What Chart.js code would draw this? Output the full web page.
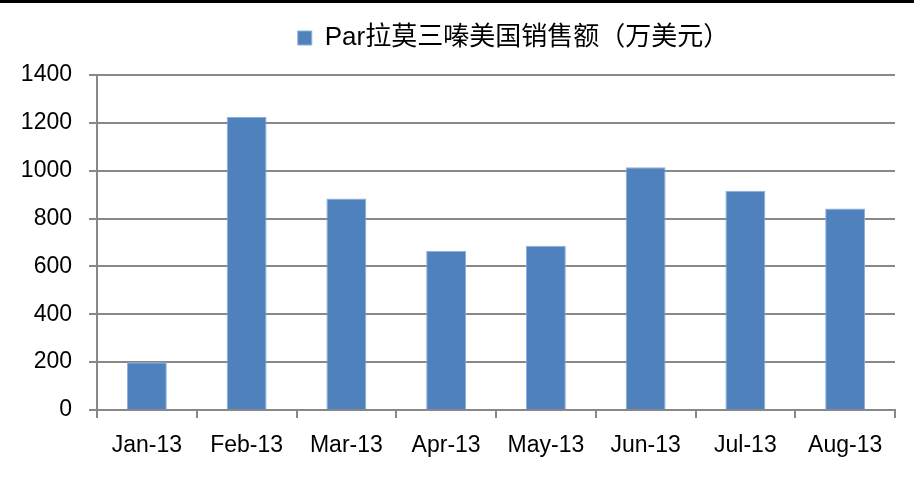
<!DOCTYPE html>
<html>
<head>
<meta charset="utf-8">
<script src="https://cdn.jsdelivr.net/npm/chart.js@4"></script>
<style>
  html, body { margin: 0; padding: 0; background: #fff; }
  #wrap { width: 914px; height: 479px; }
</style>
</head>
<body>
<div id="wrap"><canvas id="salesChart" width="914" height="479"></canvas></div>
<script>
const months = ["Jan-13", "Feb-13", "Mar-13", "Apr-13", "May-13", "Jun-13", "Jul-13", "Aug-13"];
const salesUS = [200, 1225, 884, 664, 686, 1014, 916, 842];
const seriesName = "Par拉莫三嗪美国销售额（万美元）";
const yTicks = [0, 200, 400, 600, 800, 1000, 1200, 1400];

const gridGray = "#888888";
const latinFont = "'Liberation Sans', 'Noto Sans CJK SC', sans-serif";

// top rule + fixed legend band / shifted legend
const frame = {
    id: "frame",
    beforeInit(chart) {
        const lg = chart.legend;
        if (lg) {
            const fit = lg.fit;
            lg.fit = function () { fit.call(this); this.height = 75; };
        }
    },
    afterLayout(chart) {
        const lg = chart.legend;
        if (lg) { lg.left += 66; lg.right += 66; }
    },
    beforeDraw(chart) {
        const ctx = chart.ctx;
        ctx.save();
        ctx.fillStyle = "#fff";
        ctx.fillRect(0, 0, chart.width, chart.height);
        ctx.fillStyle = "#000";
        ctx.fillRect(0, 0, chart.width, 3);
        ctx.restore();
    }
};

new Chart(document.getElementById("salesChart").getContext("2d"), {
    type: "bar",
    data: {
        labels: months,
        datasets: [{
            label: seriesName,
            data: salesUS,
            backgroundColor: "#4f81bd",
            borderColor: "#8eaedb",
            borderWidth: 1,
            categoryPercentage: 1,
            barPercentage: 0.4
        }]
    },
    options: {
        responsive: false,
        animation: false,
        layout: { padding: { left: 0, right: 19, top: 0, bottom: 0 } },
        plugins: {
            legend: {
                position: "top",
                labels: {
                    boxWidth: 14, boxHeight: 14, padding: 25,
                    color: "#000",
                    font: { family: latinFont, size: 26 }
                }
            },
            tooltip: { enabled: false }
        },
        scales: {
            x: {
                afterFit: s => { s.height = 69; },
                border: { color: gridGray, width: 2 },
                grid: { offset: true, drawOnChartArea: false, tickLength: 8, color: gridGray, lineWidth: 2 },
                ticks: { color: "#000", padding: 14, font: { family: latinFont, size: 23 }, maxRotation: 0 }
            },
            y: {
                min: 0, max: 1400,
                afterFit: s => { s.width = 97; },
                afterBuildTicks: s => { s.ticks = yTicks.map(v => ({ value: v })); },
                border: { color: gridGray, width: 2 },
                grid: { color: gridGray, lineWidth: 2, tickLength: 8 },
                ticks: {
                    color: "#000", padding: 17,
                    font: { family: latinFont, size: 23 },
                    callback: v => String(v)
                }
            }
        }
    },
    plugins: [frame]
});
</script>
</body>
</html>
